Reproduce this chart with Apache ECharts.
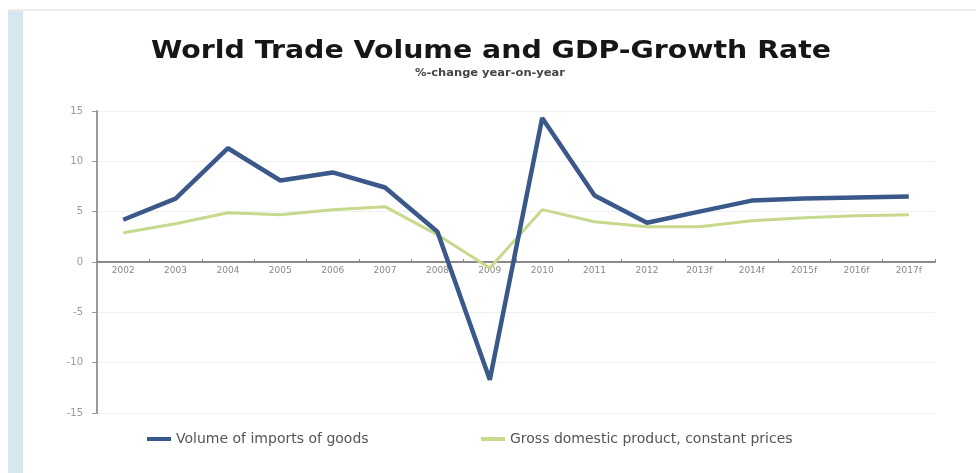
<!DOCTYPE html>
<html><head><meta charset="utf-8">
<script src="https://cdn.jsdelivr.net/npm/echarts@6/dist/echarts.min.js"></script>
<style>html,body{margin:0;padding:0;background:#fff}#c{width:976px;height:473px}</style>
</head><body><div id="c"></div>
<script>
const categories = ['2002','2003','2004','2005','2006','2007','2008','2009','2010','2011','2012','2013f','2014f','2015f','2016f','2017f'];
const importsVolume = [4.2, 6.3, 11.3, 8.1, 8.9, 7.4, 3.0, -11.7, 14.3, 6.6, 3.9, 5.0, 6.1, 6.3, 6.4, 6.5];
const gdpGrowth = [2.9, 3.8, 4.9, 4.7, 5.2, 5.5, 2.7, -0.6, 5.2, 4.0, 3.5, 3.5, 4.1, 4.4, 4.6, 4.7];
const yTicks = [-15, -10, -5, 0, 5, 10, 15];
const titleText = 'World Trade Volume and GDP-Growth Rate';
const subText = '%-change year-on-year';
const legendNames = ['Volume of imports of goods', 'Gross domestic product, constant prices'];

const ctx = document.createElement('canvas').getContext('2d');
function textW(t, font) { ctx.font = font; return ctx.measureText(t).width; }
const titleFont = 'bold 24px "DejaVu Sans"';
const titleScale = 680 / textW(titleText, titleFont);
const subFont = 'bold 10px "DejaVu Sans"';
const subScale = 150 / textW(subText, subFont);
const legFont = '14px "DejaVu Sans"';
const leg1W = textW(legendNames[0], legFont);
const legLeft = 142, iconW = 24;
const legGap = 476 - (legLeft + iconW + 5 + leg1W);

const gridTop = 111, gridBottom = 60, H = 473;
const plotH = H - gridTop - gridBottom;

const chart = echarts.init(document.getElementById('c'));
chart.setOption({
  backgroundColor: '#fff',
  animation: false,
  graphic: [
    {type: 'rect', left: 8, top: 10, shape: {width: 15, height: 463}, style: {fill: '#d5e8ef'}, silent: true},
    {type: 'line', shape: {x1: 8, y1: 10, x2: 976, y2: 10}, style: {stroke: '#ececec', lineWidth: 2}, silent: true},
    {type: 'text', x: 491, y: 52, scaleX: titleScale, style: {text: titleText, font: titleFont, fill: '#161616', align: 'center', verticalAlign: 'middle'}},
    {type: 'text', x: 490, y: 73, scaleX: subScale, style: {text: subText, font: subFont, fill: '#444', align: 'center', verticalAlign: 'middle'}}
  ],
  legend: {
    bottom: 22, left: legLeft, itemGap: legGap, itemWidth: iconW, itemHeight: 4,
    icon: 'rect',
    textStyle: {fontFamily: 'DejaVu Sans', fontSize: 14, color: '#555'},
    data: legendNames
  },
  grid: {left: 97, right: 41, top: gridTop, bottom: gridBottom},
  xAxis: {
    type: 'category', data: categories, boundaryGap: true,
    offset: -plotH / 2,
    axisLine: {onZero: false, lineStyle: {color: '#8a8a8a', width: 2}},
    axisTick: {show: true, inside: true, length: 3, lineStyle: {color: '#888'}},
    axisLabel: {fontFamily: 'DejaVu Sans', fontSize: 9, color: '#888', margin: 4, interval: 0},
    splitLine: {show: false}
  },
  yAxis: {
    type: 'value', min: -15, max: 15, interval: 5,
    axisLine: {show: true, lineStyle: {color: '#9a9a9a', width: 2}},
    axisTick: {show: true, length: 5, lineStyle: {color: '#9a9a9a'}},
    axisLabel: {fontFamily: 'DejaVu Sans', fontSize: 10, color: '#999', margin: 14,
      formatter: v => yTicks.includes(v) ? String(v) : ''},
    splitLine: {show: true, lineStyle: {color: '#f0f0f0', width: 1}}
  },
  series: [
    {name: legendNames[0], type: 'line', data: importsVolume, showSymbol: false,
      lineStyle: {color: '#3a5889', width: 4.5}, itemStyle: {color: '#3a5889'}, z: 3},
    {name: legendNames[1], type: 'line', data: gdpGrowth, showSymbol: false,
      lineStyle: {color: '#c6d98c', width: 3}, itemStyle: {color: '#c6d98c'}, z: 2}
  ]
});
</script></body></html>
